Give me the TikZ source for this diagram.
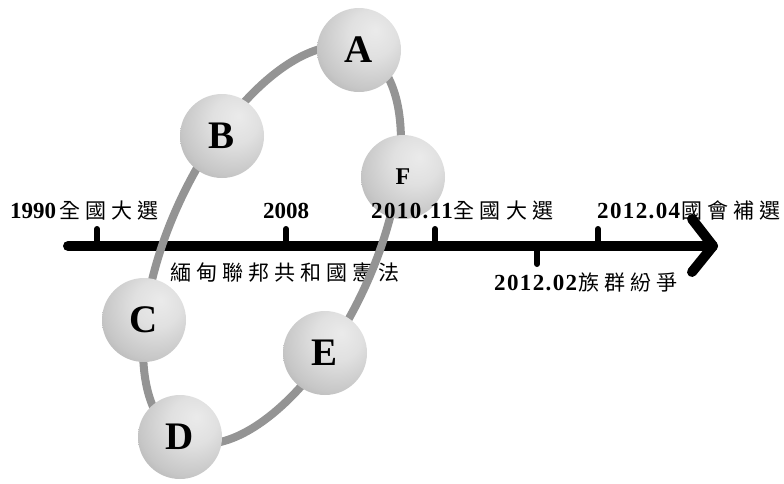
\documentclass[tikz,border=0pt]{standalone}
\usepackage{fontspec}
\setmainfont{Liberation Serif}
\newfontfamily\numfont{Liberation Serif Bold}
\newfontfamily\numsfont[LetterSpace=6]{Liberation Serif Bold}
\newfontfamily\cjkfont[LetterSpace=24]{Noto Sans CJK TC}
\pgfdeclareradialshading{myball}{\pgfpoint{10bp}{12bp}}{%
  color(0bp)=(black!8);
  color(14bp)=(black!12);
  color(30bp)=(black!22);
  color(46bp)=(black!38);
  color(56bp)=(black!60);
  color(64bp)=(black!74);
  color(72bp)=(black!80)}
\tikzset{
  axisline/.style={line width=10pt, line cap=round, line join=round, black},
  tickline/.style={line width=6pt, line cap=round, black},
  ring/.style={line width=8pt, black!42},
  ball/.style={circle, minimum size=84pt, inner sep=0pt, shading=myball,
    font=\numfont\fontsize{39}{39}\selectfont},
  smallball/.style={ball, font=\numfont\fontsize{24}{24}\selectfont},
  datelabel/.style={anchor=base west, inner sep=0pt, font=\numfont\fontsize{23}{23}\selectfont},
  cjklabel/.style={anchor=base west, inner sep=0pt}
}
\newcommand{\cj}[1]{{\cjkfont\fontsize{21}{21}\selectfont #1}}
\newcommand{\nd}[1]{{\numsfont\fontsize{23}{23}\selectfont #1}}
\begin{document}
\begin{tikzpicture}[x=1pt,y=-1pt]
\useasboundingbox (0,0) rectangle (784,483);
% axis
\coordinate (axS) at (68,246);
\coordinate (axE) at (713,246);
\coordinate (ahT) at (692,219);
\coordinate (ahB) at (692,272);
\draw[axisline] (axS) -- (axE);
\draw[axisline] (ahT) -- (axE) -- (ahB);
% ticks
\coordinate (t1) at (97,229);   \coordinate (t1b) at (97,246);
\coordinate (t2) at (286,229);  \coordinate (t2b) at (286,246);
\coordinate (t3) at (435,229);  \coordinate (t3b) at (435,246);
\coordinate (t4) at (598,229);  \coordinate (t4b) at (598,246);
\coordinate (t5) at (537,246);  \coordinate (t5b) at (537,264);
\draw[tickline] (t1) -- (t1b);
\draw[tickline] (t2) -- (t2b);
\draw[tickline] (t3) -- (t3b);
\draw[tickline] (t4) -- (t4b);
\draw[tickline] (t5) -- (t5b);
% labels
\node[datelabel] (l1) at (10,218) {1990\hspace{3pt}\cj{全國大選}};
\node[datelabel] (l2) at (263,218) {2008};
\node[datelabel] (l4) at (597,218) {\nd{2012.04}\hspace{1pt}\cj{國會補選}};
\node[cjklabel] (l5) at (170,280) {\cj{緬甸聯邦共和國憲法}};
\node[datelabel] (l6) at (494,290) {\nd{2012.02}\hspace{1pt}\cj{族群紛爭}};
% ring
\draw[ring, rotate around={65.2:(272,245)}] (272,245) ellipse [x radius=214pt, y radius=102pt];
% balls
\node[ball] (A) at (359,50) {A};
\node[ball] (B) at (222,136) {B};
\node[smallball] (F) at (403,177) {\raisebox{-4pt}{F}};
\node[ball] (C) at (144,320) {C};
\node[ball] (D) at (180,437) {D};
\node[ball] (E) at (325,353) {E};
\node[datelabel] (l3) at (371,218) {\nd{2010.11}\hspace{1pt}\cj{全國大選}};
\end{tikzpicture}
\end{document}
